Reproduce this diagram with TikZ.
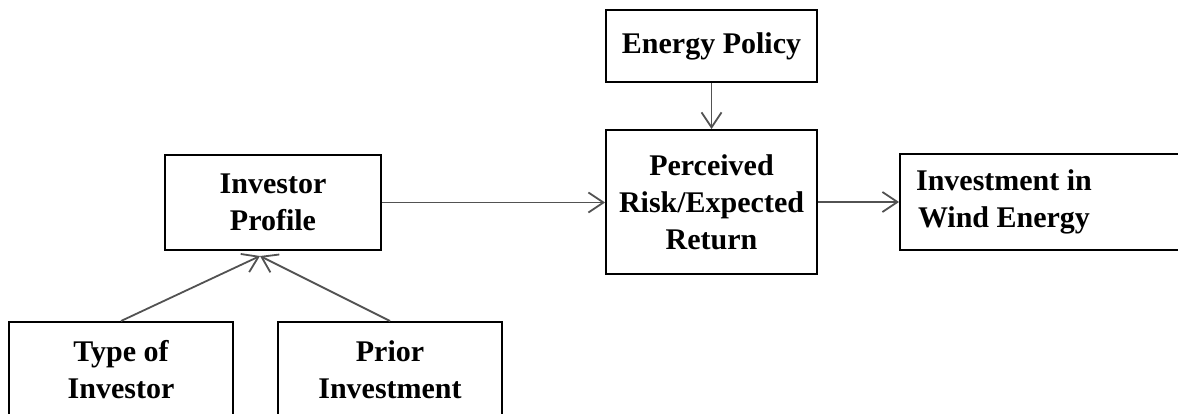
\documentclass[tikz,border=0pt]{standalone}
\usepackage{fontspec}
\setmainfont{Liberation Serif}
\usetikzlibrary{arrows.meta}
\begin{document}
\begin{tikzpicture}[x=1pt,y=-1pt,
  box/.style={draw=black,line width=2pt,rectangle,inner sep=0pt,align=center,
    font=\fontsize{30}{37}\selectfont\bfseries},
  lbl/.style={inner sep=0pt,align=center,font=\fontsize{30}{37}\selectfont\bfseries},
  conn/.style={draw=black!68,line width=1.8pt,-{Straight Barb[length=15pt,width=20pt]}}]
\useasboundingbox (0,0) rectangle (1178,414);
\clip (0,0) rectangle (1178,414);
\node[box,minimum width=211pt,minimum height=72pt] (ep) at (711.5,46) {Energy Policy};
\node[box,minimum width=211pt,minimum height=144pt] (pr) at (711.5,202) {Perceived\\Risk/Expected\\Return};
\node[box,minimum width=216pt,minimum height=95pt] (ip) at (273,202.5) {Investor\\Profile};
\node[box,minimum width=224pt,minimum height=96pt] (ti) at (121,370) {Type of\\Investor};
\node[box,minimum width=224pt,minimum height=96pt] (pi) at (390,370) {Prior\\Investment};
\node[box,minimum width=290pt,minimum height=96pt] (invbox) at (1045,202) {};
\node[lbl] (inv) at (1004,202) {Investment in\\Wind Energy};
\coordinate (c) at (260,256);
\draw[conn] (ip.east) -- (ip.east -| pr.west);
\draw[conn] (pr.east) -- (pr.east -| invbox.west);
\draw[conn] (ep.south) -- (pr.north);
\draw[conn] (ti.north) -- (c);
\draw[conn] (pi.north) -- (c);
\end{tikzpicture}
\end{document}
